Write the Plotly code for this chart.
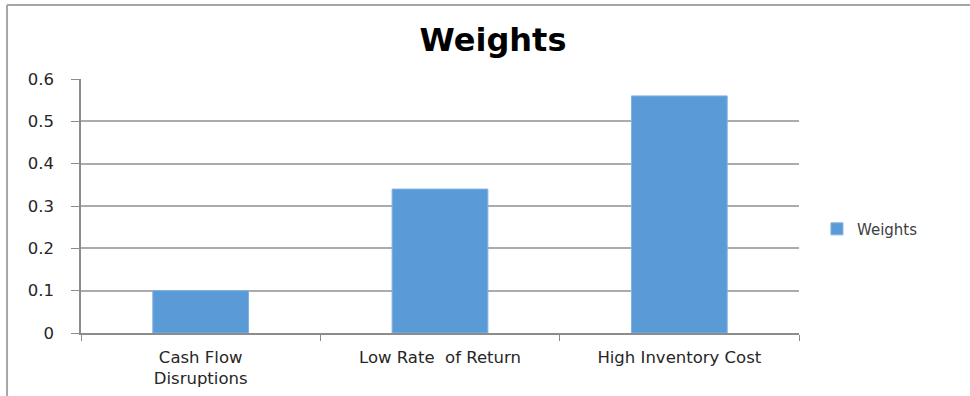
import plotly.graph_objects as go

categories = ["Cash Flow<br>Disruptions", "Low Rate  of Return", "High Inventory Cost"]
weights = [0.10, 0.34, 0.56]
y_ticks = [0, 0.1, 0.2, 0.3, 0.4, 0.5, 0.6]
y_tick_labels = ["0", "0.1", "0.2", "0.3", "0.4", "0.5", "0.6"]

fig = go.Figure()
fig.add_trace(go.Bar(
    x=categories,
    y=weights,
    name="Weights",
    marker=dict(color="#5a9ad6", line=dict(color="#7eb2e4", width=1)),
    showlegend=True,
))

axis_color = "#8c8c8c"
grid_color = "#ababab"
label_font = dict(family="DejaVu Sans", size=16.5, color="#262626")

fig.update_layout(
    width=970,
    height=396,
    margin=dict(l=81, r=171, t=79, b=63, autoexpand=False),
    paper_bgcolor="white",
    plot_bgcolor="white",
    bargap=0.6,
    title=dict(
        text="<b>Weights</b>",
        x=493 / 970,
        xanchor="center",
        y=1 - 40 / 396,
        yanchor="middle",
        font=dict(family="DejaVu Sans", size=32, color="black"),
    ),
    font=label_font,
    legend=dict(
        x=1.025,
        y=0.409,
        xanchor="left",
        yanchor="middle",
        font=dict(family="DejaVu Sans", size=15, color="#404040"),
        itemwidth=30,
        bgcolor="rgba(0,0,0,0)",
    ),
    showlegend=True,
)

fig.update_xaxes(
    type="category",
    automargin=False,
    showline=True,
    linecolor=axis_color,
    linewidth=1.5,
    ticks="outside",
    tickson="boundaries",
    ticklen=6,
    tickcolor=axis_color,
    showgrid=False,
    ticklabelstandoff=8,
    tickfont=label_font,
)

fig.update_yaxes(
    range=[0, 0.6],
    automargin=False,
    tickvals=y_ticks,
    ticktext=y_tick_labels,
    showline=True,
    linecolor=axis_color,
    linewidth=1.5,
    ticks="outside",
    ticklen=8,
    tickcolor=axis_color,
    showgrid=True,
    gridcolor=grid_color,
    gridwidth=1.5,
    zeroline=False,
    ticklabelstandoff=14,
    tickfont=label_font,
)

# chart-area frame along the left and top edges
fig.add_shape(type="line", xref="paper", yref="paper",
              x0=-0.103, x1=-0.103, y0=-0.4, y1=1.291,
              line=dict(color="#a6a6a6", width=2))
fig.add_shape(type="line", xref="paper", yref="paper",
              x0=-0.103, x1=1.4, y0=1.291, y1=1.291,
              line=dict(color="#a6a6a6", width=2))

fig.write_html("out.html")
